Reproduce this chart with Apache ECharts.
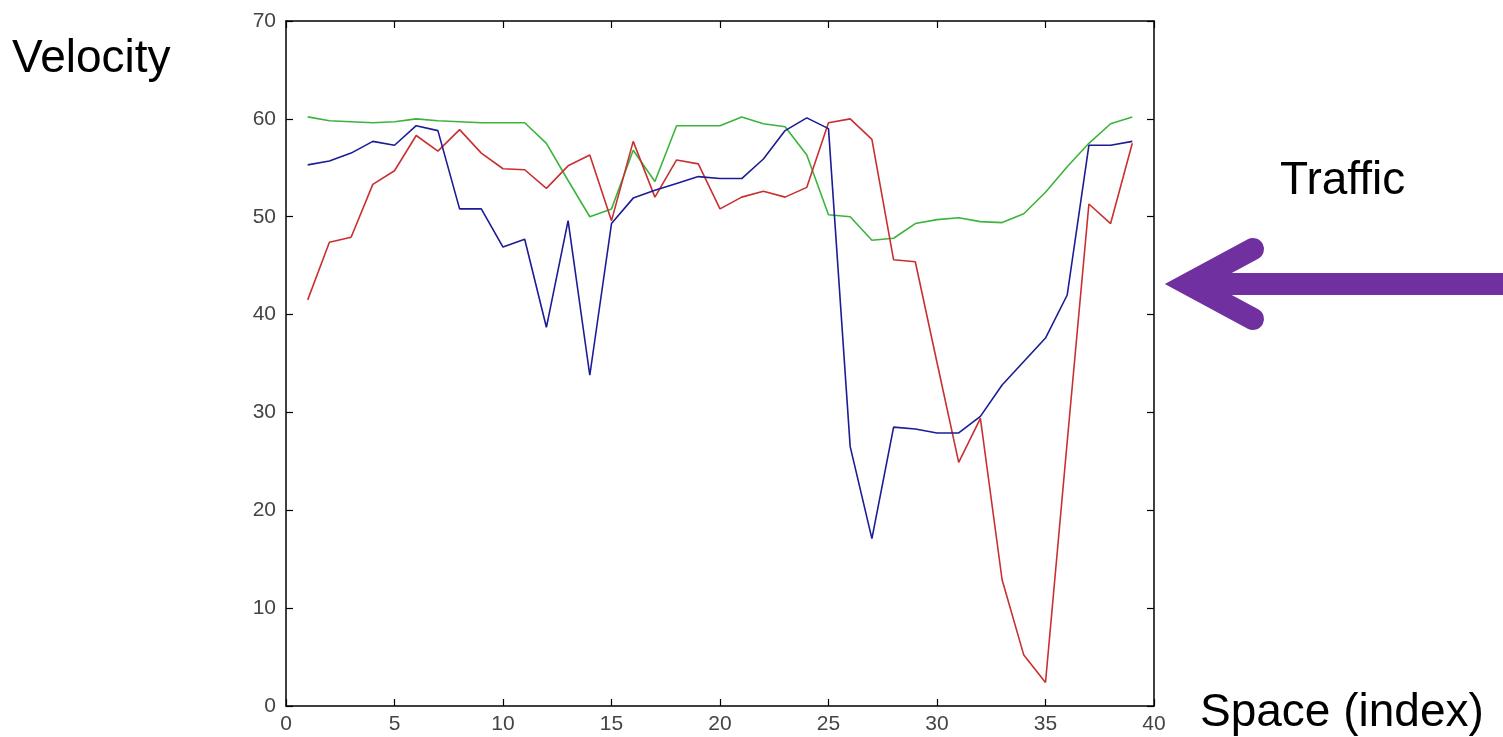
<!DOCTYPE html>
<html>
<head>
<meta charset="utf-8">
<script src="https://cdn.jsdelivr.net/npm/echarts@6/dist/echarts.min.js"></script>
<style>
html,body{margin:0;padding:0;background:#fff;}
#chart{width:1503px;height:737px;}
</style>
</head>
<body>
<div id="chart"></div>
<script>
const spaceIndex = [1,2,3,4,5,6,7,8,9,10,11,12,13,14,15,16,17,18,19,20,21,22,23,24,25,26,27,28,29,30,31,32,33,34,35,36,37,38,39];
const blueSeries = [55.3,55.7,56.5,57.7,57.3,59.3,58.8,50.8,50.8,46.9,
                    47.7,38.7,49.6,33.8,49.3,51.9,52.7,53.4,54.1,53.9,
                    53.9,55.9,58.8,60.1,59.0,26.5,17.1,28.5,28.3,27.9,
                    27.9,29.6,32.8,35.2,37.6,42.0,57.3,57.3,57.7];
const redSeries = [41.5,47.4,47.9,53.3,54.7,58.3,56.7,58.9,56.5,54.9,
                   54.8,52.9,55.2,56.3,49.6,57.7,52.0,55.8,55.4,50.8,
                   52.0,52.6,52.0,53.0,59.6,60.0,57.9,45.6,45.4,35.1,
                   24.9,29.4,12.9,5.2,2.4,27.0,51.3,49.3,57.5];
const greenSeries = [60.2,59.8,59.7,59.6,59.7,60.0,59.8,59.7,59.6,59.6,
                     59.6,57.5,53.7,50.0,50.8,56.8,53.6,59.3,59.3,59.3,
                     60.2,59.5,59.2,56.3,50.2,50.0,47.6,47.8,49.3,49.7,
                     49.9,49.5,49.4,50.3,52.5,55.1,57.5,59.5,60.2];
const xTicks = [0,5,10,15,20,25,30,35,40];
const yTicks = [0,10,20,30,40,50,60,70];
const yLabel = 'Velocity';
const xLabel = 'Space (index)';
const noteLabel = 'Traffic';

const pairs = arr => arr.map((v, i) => [spaceIndex[i], v]);
const chart = echarts.init(document.getElementById('chart'), null, {renderer: 'canvas'});
const lblStyle = {color: '#444', fontSize: 21, fontFamily: 'Liberation Sans, Arial, sans-serif'};
const lineAx = {lineStyle: {color: '#000', width: 1.5}};
const tickIn = {show: true, inside: true, length: 7, lineStyle: {color: '#000', width: 1.2}};

function lineSeries(data, color) {
  return {
    type: 'line', data: pairs(data), symbol: 'none', smooth: false,
    lineStyle: {color: color, width: 1.6}, itemStyle: {color: color},
    xAxisIndex: 0, yAxisIndex: 0, animation: false
  };
}

chart.setOption({
  animation: false,
  backgroundColor: '#fff',
  grid: {left: 286, right: 349, top: 21, bottom: 31, containLabel: false},
  xAxis: [
    {type: 'value', min: xTicks[0], max: xTicks[xTicks.length-1], interval: 5, position: 'bottom',
     axisLine: Object.assign({show: true, onZero: false}, lineAx), axisTick: tickIn,
     axisLabel: Object.assign({margin: 8}, lblStyle), splitLine: {show: false}},
    {type: 'value', min: xTicks[0], max: xTicks[xTicks.length-1], interval: 5, position: 'top',
     axisLine: Object.assign({show: true, onZero: false}, lineAx), axisTick: tickIn,
     axisLabel: {show: false}, splitLine: {show: false}}
  ],
  yAxis: [
    {type: 'value', min: yTicks[0], max: yTicks[yTicks.length-1], interval: 10, position: 'left',
     axisLine: Object.assign({show: true, onZero: false}, lineAx), axisTick: tickIn,
     axisLabel: Object.assign({margin: 10}, lblStyle), splitLine: {show: false}},
    {type: 'value', min: yTicks[0], max: yTicks[yTicks.length-1], interval: 10, position: 'right',
     axisLine: Object.assign({show: true, onZero: false}, lineAx), axisTick: tickIn,
     axisLabel: {show: false}, splitLine: {show: false}}
  ],
  series: [
    lineSeries(greenSeries, '#3cb43c'),
    lineSeries(redSeries, '#c83030'),
    lineSeries(blueSeries, '#1c1c96')
  ],
  graphic: [
    {type: 'text', left: 12, top: 36, style: {text: yLabel, x: 12, y: 36, font: '46px "Liberation Sans", Arial, sans-serif', fill: '#000', textVerticalAlign: 'middle'}},
    {type: 'text', style: {text: noteLabel, x: 1280, y: 181, font: '46px "Liberation Sans", Arial, sans-serif', fill: '#000', textVerticalAlign: 'middle'}},
    {type: 'text', style: {text: xLabel, x: 1200, y: 713, font: '46px "Liberation Sans", Arial, sans-serif', fill: '#000', textVerticalAlign: 'middle'}},
    {type: 'polyline', shape: {points: [[1200, 284], [1503, 284]]},
     style: {stroke: '#7030A0', lineWidth: 22, lineCap: 'butt', fill: null}},
    {type: 'polyline', shape: {points: [[1253, 249], [1188, 284], [1253, 319]]},
     style: {stroke: '#7030A0', lineWidth: 22, lineCap: 'round', lineJoin: 'miter', miterLimit: 10, fill: null}}
  ]
});
</script>
</body>
</html>
